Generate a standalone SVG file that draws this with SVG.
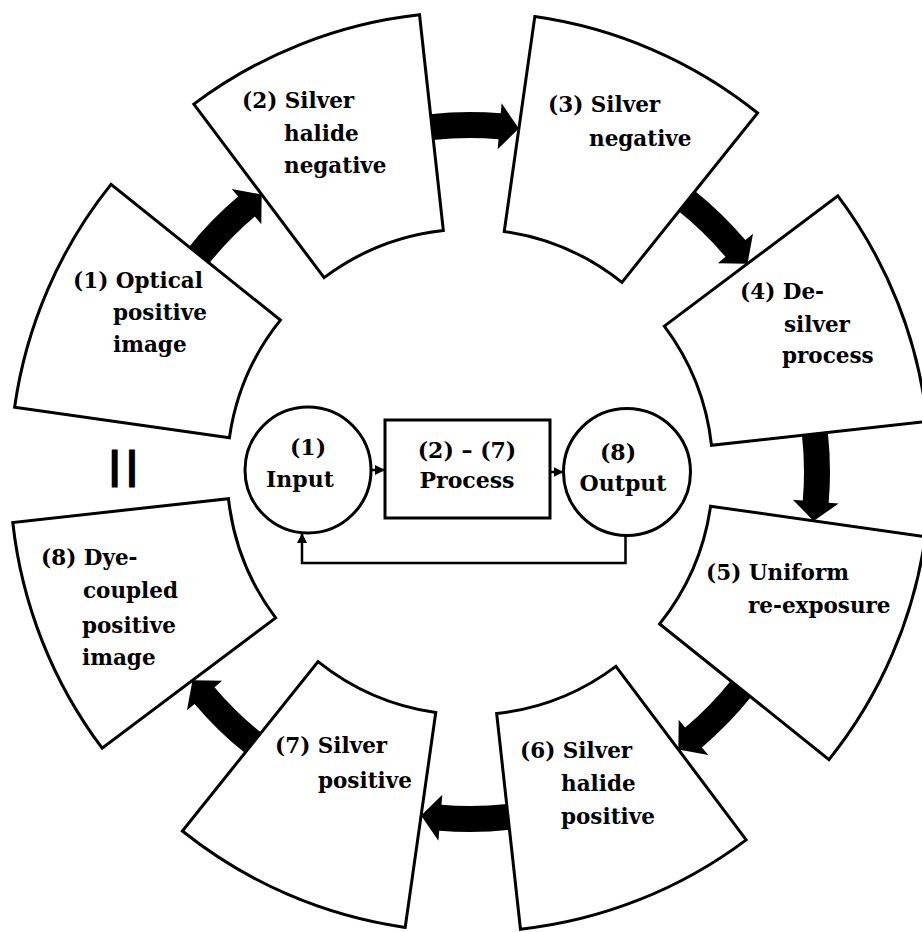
<svg xmlns="http://www.w3.org/2000/svg" width="922" height="932" viewBox="0 0 922 932">
<style>
.sec{fill:#fff;stroke:#000;stroke-width:3;stroke-linejoin:miter}
.arr{fill:#000;stroke:none}
.t{font-family:"DejaVu Serif","Liberation Serif",serif;font-weight:bold;font-size:21.5px;fill:#000}
.c{font-family:"DejaVu Serif","Liberation Serif",serif;font-weight:bold;font-size:22px;fill:#000;text-anchor:middle}
.shape{fill:#fff;stroke:#000;stroke-width:3}
.ln{fill:none;stroke:#000;stroke-width:2.5}
.mk{font-family:"Liberation Sans",sans-serif;font-size:36px;fill:#000;stroke:#000;stroke-width:3;letter-spacing:8px}
</style>
<defs>
<path id="sec" d="M 710.58 506.24 L 925.41 536.81 A 460 460 0 0 1 829.0 759.61 L 659.64 623.93 A 243 243 0 0 0 710.58 506.24 Z"/>
<path id="arr" d="M 801.92 434.77 L 827.76 431.87 A 360 360 0 0 1 828.69 502.75 L 838.65 503.61 L 813.54 520.89 L 792.82 499.68 L 802.78 500.53 A 334 334 0 0 0 801.92 434.77 Z"/>
<marker id="ah" viewBox="0 0 10 10" refX="10" refY="5" markerWidth="4" markerHeight="4" orient="auto" markerUnits="strokeWidth"><path d="M0,0 L10,5 L0,10 z" fill="#000"/></marker>
</defs>

<g id="node1">
<use href="#sec" class="sec" transform="rotate(180 470 472)"/>
<text class="t" x="73" y="288">(1) Optical</text>
<text class="t" x="113" y="320">positive</text>
<text class="t" x="113" y="352">image</text>
</g>
<g id="node2">
<use href="#sec" class="sec" transform="rotate(-135 470 472)"/>
<text class="t" x="242" y="108">(2) Silver</text>
<text class="t" x="284" y="141">halide</text>
<text class="t" x="284" y="173">negative</text>
</g>
<g id="node3">
<use href="#sec" class="sec" transform="rotate(-90 470 472)"/>
<text class="t" x="548" y="112">(3) Silver</text>
<text class="t" x="589" y="146">negative</text>
</g>
<g id="node4">
<use href="#sec" class="sec" transform="rotate(-45 470 472)"/>
<text class="t" x="740" y="299">(4) De-</text>
<text class="t" x="784" y="332">silver</text>
<text class="t" x="782" y="363">process</text>
</g>
<g id="node5">
<use href="#sec" class="sec"/>
<text class="t" x="706" y="580">(5) Uniform</text>
<text class="t" x="748" y="613">re-exposure</text>
</g>
<g id="node6">
<use href="#sec" class="sec" transform="rotate(45 470 472)"/>
<text class="t" x="520" y="758">(6) Silver</text>
<text class="t" x="561" y="791">halide</text>
<text class="t" x="561" y="824">positive</text>
</g>
<g id="node7">
<use href="#sec" class="sec" transform="rotate(90 470 472)"/>
<text class="t" x="275" y="753">(7) Silver</text>
<text class="t" x="318" y="788">positive</text>
</g>
<g id="node8">
<use href="#sec" class="sec" transform="rotate(135 470 472)"/>
<text class="t" x="41" y="565">(8) Dye-</text>
<text class="t" x="83" y="598">coupled</text>
<text class="t" x="82" y="633">positive</text>
<text class="t" x="82" y="665">image</text>
</g>

<g id="equiv">
<text class="mk" x="110" y="478">||</text>
</g>

<g id="input">
<circle class="shape" cx="308" cy="470" r="63"/>
<text class="c" x="308" y="455">(1)</text>
<text class="c" x="300" y="487">Input</text>
</g>
<g id="process">
<rect class="shape" x="385" y="420" width="165" height="98"/>
<text class="c" x="467" y="458">(2) – (7)</text>
<text class="c" x="467" y="488">Process</text>
</g>
<g id="output">
<circle class="shape" cx="627" cy="472" r="63.5"/>
<text class="c" x="618" y="460">(8)</text>
<text class="c" x="623" y="491">Output</text>
</g>

<g id="connectors">
<use href="#arr" class="arr" transform="rotate(-135 470 472)"/>
<use href="#arr" class="arr" transform="rotate(-90 470 472)"/>
<use href="#arr" class="arr" transform="rotate(-45 470 472)"/>
<use href="#arr" class="arr"/>
<use href="#arr" class="arr" transform="rotate(45 470 472)"/>
<use href="#arr" class="arr" transform="rotate(90 470 472)"/>
<use href="#arr" class="arr" transform="rotate(135 470 472)"/>
<path class="ln" d="M 371 470 L 385 470" marker-end="url(#ah)"/>
<path class="ln" d="M 550 472 L 563.5 472" marker-end="url(#ah)"/>
<path class="ln" d="M 625.5 535.5 L 625.5 563 L 302 563 L 302 533" marker-end="url(#ah)"/>
</g>
</svg>
